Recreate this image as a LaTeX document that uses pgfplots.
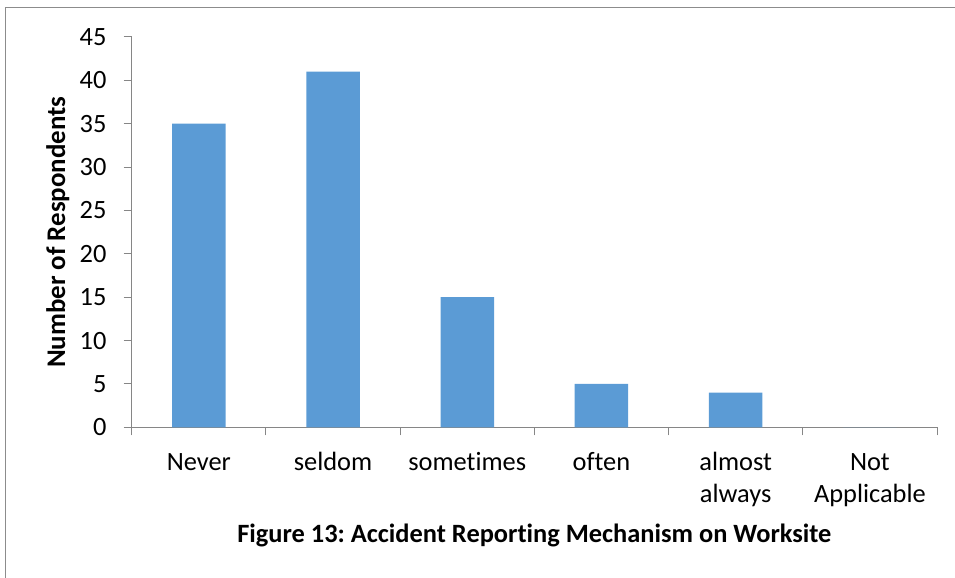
\documentclass[border=0pt]{standalone}
\usepackage{fontspec}
\setmainfont[Ligatures=CommonOff]{Carlito}
\usepackage{pgfplots}
\pgfplotsset{compat=1.18}
\definecolor{barblue}{HTML}{5B9BD5}
\definecolor{axgray}{HTML}{868686}
\definecolor{framegray}{HTML}{8C8C8C}
\frenchspacing
\begin{document}
\begin{tikzpicture}[x=1bp,y=1bp]
\useasboundingbox (0,0) rectangle (955,578);
\draw[framegray, line width=1.5bp] (5.5,0) -- (5.5,570.5) -- (955,570.5);
\begin{axis}[
  at={(131.7bp,150.7bp)}, anchor=south west,
  scale only axis, width=805.3bp, height=390.4bp,
  xmin=-0.5, xmax=5.5, ymin=0, ymax=45,
  axis x line*=bottom, axis y line*=left,
  axis line style={axgray, line width=1bp, -},
  ytick={0,5,...,45},
  xtick={-0.5,0.5,1.5,2.5,3.5,4.5,5.5},
  x tick label as interval,
  xticklabels={{\strut Never},{\strut seldom},{\strut sometimes},{\strut often},{\strut almost\\always},{\strut Not\\Applicable}},
  tick align=outside,
  tick style={axgray, line width=1bp},
  major tick length=8bp,
  /pgf/number format/assume math mode=true,
  yticklabel style={font=\fontsize{26.5}{32}\selectfont, anchor=east, inner sep=0pt, xshift=-17bp},
  xticklabel style={font=\fontsize{26.5}{32.7}\selectfont, align=center, anchor=north, inner sep=0pt, yshift=-12bp},
  ylabel={Number of Respondents},
  ylabel style={font=\fontsize{27}{32}\selectfont\bfseries, at={(axis description cs:-0.0828,0.5)}, anchor=base, rotate=0},
  xlabel={Figure 13: Accident Reporting Mechanism on Worksite},
  xlabel style={font=\fontsize{26.5}{32}\selectfont\bfseries, at={(axis description cs:0.5,0)}, anchor=base, yshift=-115.4bp},
]
\addplot[ybar, bar width=53.5bp, fill=barblue, draw=none] coordinates {(0,35) (1,41) (2,15) (3,5) (4,4) (5,0)};
\end{axis}
\end{tikzpicture}
\end{document}
